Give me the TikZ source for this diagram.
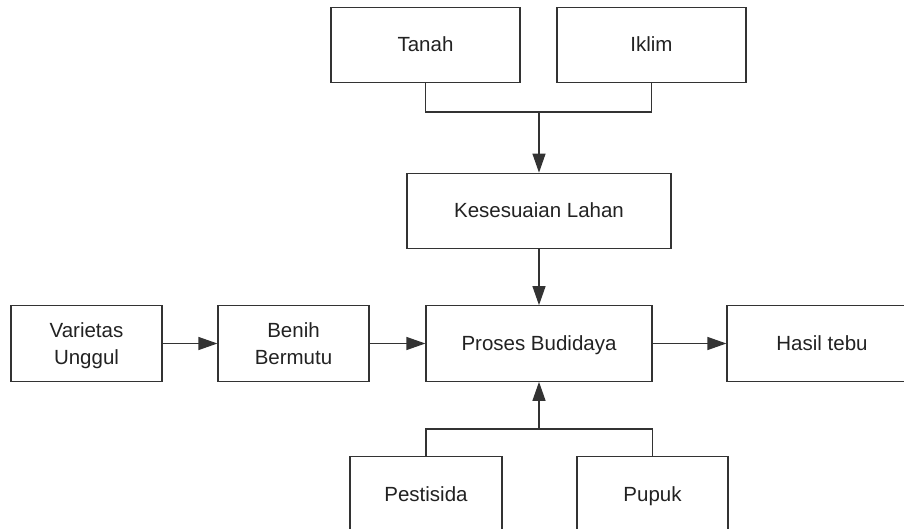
\documentclass[tikz,border=0pt]{standalone}
\usepackage{fontspec}
\setmainfont{Liberation Sans}
\usetikzlibrary{arrows.meta}
\definecolor{linec}{HTML}{333333}
\definecolor{textc}{HTML}{222222}
\newcommand\mystrut{\rule[-5pt]{0pt}{24pt}}
\begin{document}
\begin{tikzpicture}[x=1pt,y=-1pt,
  box/.style={draw=linec,line width=1.2pt,fill=white,minimum height=75.5pt,inner sep=0pt,
    align=center,text=textc,font=\fontsize{20.5}{27}\selectfont},
  conn/.style={draw=linec,line width=1.2pt},
  arr/.style={conn,-{Triangle[length=19pt,width=13pt]}}]
\useasboundingbox (0,0) rectangle (904,529);
\clip (0,0) rectangle (904,529);
\node[box,minimum width=189pt] (tanah) at (425.5,45) {\mystrut Tanah};
\node[box,minimum width=189pt] (iklim) at (651.5,45) {\mystrut Iklim};
\node[box,minimum width=264pt] (kes) at (539,211) {\mystrut Kesesuaian Lahan};
\node[box,minimum width=151pt] (var) at (86.5,343.5) {\mystrut Varietas\\\mystrut Unggul};
\node[box,minimum width=151pt] (benih) at (293.5,343.5) {\mystrut Benih\\\mystrut Bermutu};
\node[box,minimum width=226pt] (proses) at (539,343.5) {\mystrut Proses Budidaya};
\node[box,minimum width=190pt] (hasil) at (822,343.5) {\mystrut Hasil tebu};
\node[box,minimum width=152pt] (pest) at (426,494.5) {\mystrut Pestisida};
\node[box,minimum width=151pt] (pupuk) at (652.5,494.5) {\mystrut Pupuk};
\coordinate (j1) at (539,112);
\coordinate (j2) at (539,429);
\draw[conn] (tanah.south) |- (j1) -| (iklim.south);
\draw[arr] (j1) -- (kes.north);
\draw[arr] (kes.south) -- (proses.north);
\draw[arr] (var.east) -- (benih.west);
\draw[arr] (benih.east) -- (proses.west);
\draw[arr] (proses.east) -- (hasil.west);
\draw[conn] (pest.north) |- (j2) -| (pupuk.north);
\draw[arr] (j2) -- (proses.south);
\end{tikzpicture}
\end{document}
